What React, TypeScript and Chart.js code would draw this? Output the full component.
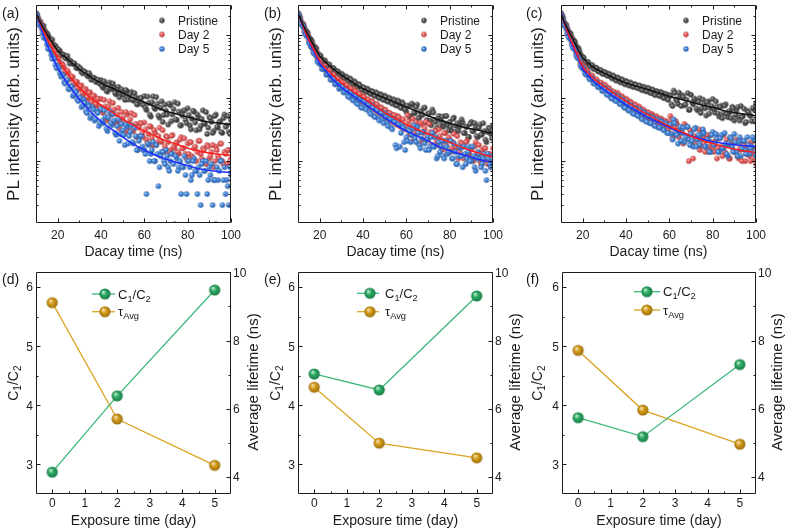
import React, { useEffect, useRef } from 'react';
import { Chart, registerables } from 'chart.js';

Chart.register(...registerables);

const FONT = '"Liberation Sans", Arial, Helvetica, sans-serif';
const INK = '#1b1b1b';

// ---------------- Panels (a)-(c): PL decay (counts, log axis) ----------------
const seriesNames = ['Pristine', 'Day 2', 'Day 5'];
const decayTime = [
  10, 11, 12, 13, 14, 15, 16, 17, 18, 19,
  20, 21, 22, 23, 24, 25, 26, 27, 28, 29,
  30, 31, 32, 33, 34, 35, 36, 37, 38, 39,
  40, 41, 42, 43, 44, 45, 46, 47, 48, 49,
  50, 51, 52, 53, 54, 55, 56, 57, 58, 59,
  60, 61, 62, 63, 64, 65, 66, 67, 68, 69,
  70, 71, 72, 73, 74, 75, 76, 77, 78, 79,
  80, 81, 82, 83, 84, 85, 86, 87, 88, 89,
  90, 91, 92, 93, 94, 95, 96, 97, 98, 99,
  100,
];
const decayTimeMid = [
  10.5, 11.5, 12.5, 13.5, 14.5, 15.5, 16.5, 17.5, 18.5, 19.5,
  20.5, 21.5, 22.5, 23.5, 24.5, 25.5, 26.5, 27.5, 28.5, 29.5,
  30.5, 31.5, 32.5, 33.5, 34.5, 35.5, 36.5, 37.5, 38.5, 39.5,
  40.5, 41.5, 42.5, 43.5, 44.5, 45.5, 46.5, 47.5, 48.5, 49.5,
  50.5, 51.5, 52.5, 53.5, 54.5, 55.5, 56.5, 57.5, 58.5, 59.5,
  60.5, 61.5, 62.5, 63.5, 64.5, 65.5, 66.5, 67.5, 68.5, 69.5,
  70.5, 71.5, 72.5, 73.5, 74.5, 75.5, 76.5, 77.5, 78.5, 79.5,
  80.5, 81.5, 82.5, 83.5, 84.5, 85.5, 86.5, 87.5, 88.5, 89.5,
  90.5, 91.5, 92.5, 93.5, 94.5, 95.5, 96.5, 97.5, 98.5, 99.5,
];
const fitTime = [10, 12, 14, 16, 18, 20, 22, 24, 26, 28, 30, 35, 40, 45, 50, 55, 60, 65, 70, 75, 80, 85, 90, 95, 100];

// (a)
const aPristine = [
  2240, 1880, 1640, 1420, 1200, 1080, 930, 850, 720, 680,
  590, 560, 500, 480, 440, 410, 390, 350, 345, 300,
  300, 260, 270, 252, 222, 228, 200, 210, 180, 192,
  193, 146, 163, 127, 177, 139, 150, 115, 151, 115,
  122, 94, 128, 106, 126, 91, 103, 80, 101, 84,
  108, 65, 84, 51, 107, 67, 82, 49, 89, 54,
  63, 38, 77, 55, 86, 45, 61, 37, 63, 45,
  69, 37, 47, 61, 31, 50, 36, 64, 39, 27,
  50, 42, 30, 55, 34, 43, 28, 55, 37, 29,
  45,
];
const aPristineMid = [
  2150, 1650, 1470, 1400, 1030, 1020, 840, 850, 620, 620,
  590, 480, 490, 430, 470, 355, 360, 360, 305, 320,
  298, 248, 262, 232, 250, 196, 210, 184, 196, 168,
  155, 186, 132, 162, 145, 171, 120, 135, 103, 138,
  113, 135, 95, 116, 94, 120, 80, 94, 100, 78,
  71, 106, 55, 86, 71, 104, 53, 70, 42, 79,
  55, 82, 43, 67, 46, 82, 37, 53, 64, 40,
  54, 32, 63, 41, 55, 32, 47, 40, 60, 34,
  48, 28, 52, 35, 41, 29, 48, 35, 52, 27,
];
const aDay2 = [
  2200, 1800, 1560, 1240, 1090, 880, 790, 650, 590, 480,
  445, 365, 350, 300, 250, 250, 200, 215, 165, 180,
  138, 160, 112, 140, 98, 124, 90, 108, 76, 96,
  98, 58, 74, 44, 89, 55, 66, 39, 70, 42,
  48, 28, 55, 39, 58, 30, 39, 24, 40, 28,
  41, 22, 27, 35, 18, 28, 20, 34, 20, 14,
  25, 20, 15, 26, 16, 20, 13, 24, 16, 13,
  19, 20, 12, 16, 10, 21, 13, 16, 10, 18,
  11, 14, 8, 17, 12, 19, 10, 14, 9, 15,
  11,
];
const aDay2Mid = [
  2080, 1560, 1420, 1090, 1010, 790, 740, 590, 560, 450,
  420, 330, 335, 260, 275, 205, 220, 170, 182, 146,
  156, 122, 132, 104, 122, 86, 110, 80, 98, 70,
  64, 94, 48, 73, 59, 84, 42, 55, 33, 60,
  41, 60, 31, 46, 31, 54, 24, 34, 40, 24,
  32, 19, 36, 23, 31, 18, 25, 21, 31, 17,
  24, 14, 25, 17, 19, 14, 22, 16, 23, 11,
  13, 20, 11, 17, 14, 21, 11, 15, 9, 17,
  12, 18, 10, 15, 11, 19, 9, 13, 15, 10,
];
const aDay5 = [
  2240, 1720, 1440, 1100, 930, 720, 620, 490, 440, 340,
  320, 250, 236, 180, 186, 140, 156, 108, 128, 96,
  104, 72, 96, 62, 80, 48, 72, 44, 62, 36,
  67, 40, 51, 30, 61, 37, 44, 26, 46, 27,
  31, 18, 35, 25, 37, 19, 25, 15, 25, 17,
  15, 3, 18, 13, 20, 10, 13, 8, 14, 10,
  15, 8, 10, 13, 1, 11, 8, 3, 8, 6,
  10, 8, 6, 11, 7, 8, 2, 10, 7, 3,
  8, 9, 5, 1, 5, 10, 2, 8, 5, 2,
  6,
];
const aDay5Mid = [
  2050, 1480, 1330, 920, 880, 610, 590, 420, 420, 300,
  300, 220, 230, 170, 196, 138, 152, 114, 124, 90,
  100, 76, 84, 58, 74, 52, 66, 46, 58, 40,
  44, 64, 33, 49, 40, 56, 28, 36, 21, 39,
  26, 38, 19, 29, 20, 34, 15, 21, 25, 15,
  13, 19, 10, 15, 10, 18, 4, 12, 14, 9,
  12, 7, 13, 9, 12, 7, 10, 8, 12, 3,
  10, 5, 10, 7, 3, 6, 9, 7, 10, 5,
  6, 2, 5, 8, 7, 10, 5, 3, 4, 8,
];
const aPristineFit = [2240, 1600, 1200, 920, 720, 570, 490, 432, 378, 330, 288, 220, 172, 145, 121, 101, 86, 73, 62, 56, 50, 45, 42, 40, 38];
const aDay2Fit = [2240, 1520, 1060, 760, 570, 430, 335, 262, 212, 176, 148, 104, 78, 60, 47, 37, 30, 25, 21, 18.5, 16, 14.5, 13.5, 12.8, 12.3];
const aDay5Fit = [2240, 1400, 900, 600, 420, 305, 232, 182, 146, 118, 96, 62, 43, 32, 24, 18.6, 15, 12.5, 10.7, 9.5, 8.5, 7.6, 7.1, 6.8, 6.6];

// (b)
const bPristine = [
  2240, 1900, 1520, 1300, 1150, 940, 860, 700, 640, 520,
  480, 410, 400, 350, 345, 305, 300, 268, 270, 238,
  245, 216, 222, 198, 206, 176, 186, 160, 168, 144,
  150, 130, 142, 122, 130, 112, 124, 104, 116, 96,
  110, 90, 102, 86, 96, 78, 92, 74, 86, 68,
  61, 75, 52, 77, 58, 79, 49, 57, 69, 41,
  57, 44, 66, 45, 34, 52, 44, 35, 52, 37,
  42, 30, 49, 36, 30, 40, 41, 28, 35, 24,
  42, 30, 35, 24, 38, 27, 30, 20, 34, 27,
  37,
];
const bPristineMid = [
  2120, 1620, 1480, 1150, 1080, 850, 800, 640, 610, 480,
  470, 390, 395, 335, 340, 292, 300, 258, 264, 228,
  236, 206, 214, 186, 196, 168, 176, 152, 160, 136,
  146, 126, 134, 116, 126, 108, 118, 100, 110, 94,
  104, 88, 98, 82, 92, 76, 88, 70, 82, 66,
  76, 50, 82, 59, 72, 48, 62, 54, 71, 45,
  57, 37, 59, 42, 47, 36, 51, 40, 52, 31,
  35, 47, 29, 40, 35, 46, 28, 35, 24, 39,
  30, 40, 25, 34, 26, 40, 22, 29, 33, 23,
];
const bDay2 = [
  2260, 1800, 1500, 1180, 1040, 820, 740, 590, 540, 420,
  395, 330, 330, 270, 275, 225, 228, 190, 196, 165,
  182, 150, 162, 132, 144, 118, 136, 104, 118, 92,
  108, 86, 96, 74, 90, 70, 80, 62, 72, 56,
  66, 48, 58, 44, 54, 40, 52, 36, 46, 34,
  35, 43, 26, 47, 28, 33, 19, 38, 28, 42,
  22, 29, 18, 30, 21, 32, 17, 21, 28, 14,
  22, 16, 27, 16, 11, 20, 17, 12, 21, 13,
  16, 10, 20, 13, 10, 15, 16, 10, 13, 8,
  16,
];
const bDay2Mid = [
  2080, 1560, 1420, 1060, 990, 760, 700, 540, 520, 400,
  395, 320, 325, 268, 276, 230, 236, 196, 204, 170,
  178, 148, 160, 128, 142, 112, 128, 100, 116, 88,
  104, 82, 94, 72, 86, 64, 80, 58, 70, 52,
  64, 48, 58, 42, 54, 38, 50, 35, 46, 32,
  54, 28, 37, 22, 41, 28, 41, 22, 33, 23,
  39, 18, 25, 30, 18, 25, 15, 28, 18, 24,
  14, 20, 17, 25, 14, 19, 11, 20, 13, 15,
  11, 17, 12, 18, 9, 11, 16, 9, 13, 11,
];
const bDay5 = [
  2200, 1740, 1420, 1140, 980, 760, 650, 540, 500, 380,
  350, 290, 300, 236, 240, 196, 200, 166, 172, 140,
  156, 124, 138, 108, 124, 96, 110, 84, 98, 72,
  90, 70, 82, 60, 78, 52, 68, 48, 62, 44,
  58, 40, 52, 34, 46, 18, 42, 17, 38, 20,
  24, 32, 20, 33, 23, 35, 18, 23, 29, 15,
  24, 17, 28, 17, 11, 20, 17, 12, 21, 13,
  14, 11, 19, 9, 12, 16, 8, 13, 11, 17,
  10, 12, 7, 14, 11, 9, 13, 5, 11, 8,
  12,
];
const bDay5Mid = [
  2060, 1520, 1380, 1030, 940, 720, 660, 510, 470, 370,
  356, 290, 290, 240, 240, 198, 200, 168, 172, 146,
  150, 124, 134, 104, 118, 92, 106, 80, 94, 70,
  86, 66, 78, 56, 70, 50, 64, 44, 58, 40,
  50, 36, 46, 32, 42, 16, 38, 28, 34, 15,
  21, 30, 26, 37, 20, 28, 16, 29, 19, 22,
  15, 24, 17, 24, 12, 14, 21, 11, 17, 14,
  21, 11, 14, 9, 17, 12, 17, 9, 14, 10,
  17, 8, 11, 13, 8, 11, 7, 13, 9, 11,
];
const bPristineFit = [2240, 1550, 1120, 830, 615, 470, 395, 340, 298, 262, 234, 180, 141, 118, 101, 85, 72, 62, 52.5, 45.5, 40, 35.5, 32.4, 30, 27.5];
const bDay2Fit = [2240, 1480, 1000, 720, 525, 395, 322, 272, 233, 200, 174, 130, 101, 77, 59, 47, 38.5, 32, 27, 23, 20, 17, 14.6, 13, 11.5];
const bDay5Fit = [2240, 1450, 960, 680, 485, 355, 290, 240, 200, 172, 148, 112, 85, 64, 49, 38, 30, 25, 21, 17, 14.6, 13, 11.5, 10.3, 9.5];

// (c)
const cPristine = [
  2240, 1880, 1520, 1260, 1100, 920, 830, 680, 630, 500,
  450, 380, 375, 330, 335, 296, 305, 270, 282, 248,
  262, 234, 246, 218, 230, 198, 214, 186, 200, 174,
  188, 164, 178, 154, 168, 148, 160, 138, 152, 130,
  146, 124, 138, 116, 130, 112, 126, 104, 118, 98,
  113, 80, 132, 96, 81, 108, 111, 77, 94, 65,
  113, 80, 93, 64, 100, 69, 78, 53, 89, 70,
  97, 59, 73, 51, 76, 58, 80, 50, 60, 73,
  44, 64, 50, 75, 52, 40, 63, 54, 43, 66,
  82,
];
const cPristineMid = [
  2080, 1560, 1440, 1110, 1050, 820, 780, 600, 570, 450,
  440, 370, 375, 322, 332, 288, 300, 264, 276, 242,
  254, 226, 236, 206, 220, 190, 206, 178, 192, 166,
  180, 158, 170, 150, 162, 144, 156, 134, 148, 128,
  142, 120, 134, 112, 126, 108, 120, 100, 114, 94,
  109, 75, 121, 92, 122, 75, 104, 79, 120, 66,
  86, 99, 69, 86, 58, 95, 69, 86, 57, 75,
  67, 89, 57, 73, 48, 76, 56, 62, 48, 69,
  54, 72, 44, 50, 68, 42, 60, 52, 70, 43,
];
const cDay2 = [
  2240, 1760, 1440, 1100, 960, 740, 660, 520, 470, 360,
  335, 280, 275, 228, 230, 196, 198, 170, 176, 150,
  164, 134, 146, 118, 128, 106, 122, 94, 108, 84,
  98, 76, 88, 68, 80, 62, 74, 56, 66, 52,
  60, 46, 56, 42, 52, 38, 48, 35, 44, 32,
  43, 35, 25, 43, 27, 32, 20, 39, 25, 10,
  30, 11, 18, 24, 15, 31, 19, 24, 14, 26,
  16, 19, 11, 23, 17, 26, 13, 18, 11, 19,
  14, 21, 11, 15, 19, 10, 16, 12, 20, 13,
  9,
];
const cDay2Mid = [
  2040, 1500, 1340, 990, 900, 660, 620, 460, 440, 320,
  316, 256, 264, 214, 226, 186, 196, 164, 176, 146,
  160, 126, 138, 108, 124, 100, 114, 88, 102, 80,
  94, 72, 84, 64, 76, 58, 70, 52, 62, 48,
  58, 44, 52, 40, 48, 36, 45, 33, 42, 30,
  52, 23, 33, 39, 24, 32, 19, 36, 23, 31,
  18, 25, 22, 32, 17, 24, 14, 26, 17, 20,
  14, 22, 16, 24, 12, 14, 22, 11, 18, 15,
  22, 12, 16, 10, 18, 13, 19, 10, 16, 11,
];
const cDay5 = [
  2200, 1700, 1380, 1060, 900, 700, 620, 480, 440, 330,
  300, 250, 246, 205, 206, 172, 178, 150, 160, 130,
  146, 116, 130, 102, 116, 92, 108, 82, 96, 72,
  86, 64, 78, 58, 70, 54, 66, 48, 60, 44,
  54, 40, 50, 37, 46, 34, 44, 32, 40, 28,
  38, 27, 46, 28, 19, 35, 28, 20, 35, 22,
  27, 17, 34, 22, 18, 27, 28, 17, 22, 14,
  29, 19, 23, 14, 26, 16, 19, 12, 24, 17,
  27, 14, 20, 12, 21, 15, 24, 13, 17, 22,
  12,
];
const cDay5Mid = [
  1980, 1440, 1260, 930, 840, 630, 580, 440, 410, 310,
  290, 236, 240, 198, 206, 170, 178, 150, 156, 132,
  142, 112, 126, 98, 112, 90, 104, 80, 92, 70,
  82, 64, 74, 56, 68, 52, 64, 46, 58, 42,
  52, 40, 48, 36, 45, 34, 42, 31, 39, 28,
  38, 22, 40, 26, 30, 21, 34, 24, 35, 18,
  21, 32, 17, 26, 22, 32, 17, 22, 14, 26,
  18, 27, 14, 23, 16, 28, 13, 19, 23, 14,
  20, 12, 24, 16, 21, 13, 18, 16, 24, 14,
];
const cPristineFit = [2240, 1500, 1080, 800, 580, 445, 375, 328, 295, 270, 250, 205, 174, 155, 138, 122, 107, 96, 87, 78, 71, 64, 59, 55.5, 52.5];
const cDay2Fit = [2240, 1400, 930, 640, 450, 316, 262, 222, 192, 170, 152, 115, 89, 69, 55, 44, 36, 30, 25, 21.5, 19, 17, 15.5, 14.5, 13.8];
const cDay5Fit = [2240, 1350, 880, 600, 420, 290, 238, 202, 174, 153, 136, 103, 78, 62, 49, 41, 34, 29, 25, 22.5, 20.4, 19.2, 18.2, 17.5, 17];

const decayMajor = [20, 40, 60, 80, 100];
const decayMinor = [30, 50, 70, 90];
const logMajor = [10, 100, 1000];
const logMinor = [2, 3, 4, 5, 6, 7, 8, 9, 20, 30, 40, 50, 60, 70, 80, 90, 200, 300, 400, 500, 600, 700, 800, 900, 2000, 3000];

// ---------------- Panels (d)-(f): C1/C2 and average lifetime ----------------
const exposureDays = [0, 2, 5];
const dRatio = [2.87, 4.16, 5.95];
const dTau = [9.11, 5.7, 4.34];
const eRatio = [4.53, 4.26, 5.85];
const eTau = [6.63, 4.99, 4.56];
const fRatio = [3.79, 3.47, 4.69];
const fTau = [7.71, 5.96, 4.96];
const dayMajor = [0, 1, 2, 3, 4, 5];
const dayMinor = [0.5, 1.5, 2.5, 3.5, 4.5];
const ratioMajor = [3, 4, 5, 6];
const ratioMinor = [3.5, 4.5, 5.5];
const lifeMajor = [4, 6, 8, 10];
const lifeMinor = [5, 7, 9];

// ---------------- helpers ----------------
type RGB = [number, number, number];
const GRAY: RGB = [80, 80, 80];
const RED: RGB = [240, 88, 88];
const BLUE: RGB = [64, 134, 224];
const GREEN: RGB = [42, 170, 98];
const GOLD: RGB = [212, 154, 22];

function makeBall(c: RGB, r: number): HTMLCanvasElement {
  const size = Math.ceil(r * 2) + 2;
  const cv = document.createElement('canvas');
  cv.width = size;
  cv.height = size;
  const g = cv.getContext('2d')!;
  const m = size / 2;
  const lift = (v: number, k: number) => Math.round(v + (255 - v) * k);
  const grad = g.createRadialGradient(m - r * 0.35, m - r * 0.38, r * 0.05, m, m, r);
  grad.addColorStop(0, `rgb(${lift(c[0], 0.75)},${lift(c[1], 0.75)},${lift(c[2], 0.75)})`);
  grad.addColorStop(0.45, `rgb(${c[0]},${c[1]},${c[2]})`);
  grad.addColorStop(1, `rgb(${Math.round(c[0] * 0.72)},${Math.round(c[1] * 0.72)},${Math.round(c[2] * 0.72)})`);
  g.fillStyle = grad;
  g.beginPath();
  g.arc(m, m, r, 0, Math.PI * 2);
  g.fill();
  return cv;
}

type Part = { t: string; sub?: boolean };
function drawText(
  ctx: CanvasRenderingContext2D,
  parts: Part[] | string,
  x: number,
  y: number,
  size: number,
  align: 'left' | 'center' | 'right' = 'left',
  rotate = 0,
) {
  const ps: Part[] = typeof parts === 'string' ? [{ t: parts }] : parts;
  ctx.save();
  ctx.translate(x, y);
  if (rotate) ctx.rotate(rotate);
  const subSize = size * 0.72;
  const fontOf = (p: Part) => `${p.sub ? subSize : size}px ${FONT}`;
  let w = 0;
  for (const p of ps) {
    ctx.font = fontOf(p);
    w += ctx.measureText(p.t).width;
  }
  let cx = align === 'center' ? -w / 2 : align === 'right' ? -w : 0;
  ctx.fillStyle = INK;
  ctx.textAlign = 'left';
  ctx.textBaseline = 'alphabetic';
  const base = size * 0.36;
  for (const p of ps) {
    ctx.font = fontOf(p);
    ctx.fillText(p.t, cx, p.sub ? base + size * 0.22 : base);
    cx += ctx.measureText(p.t).width;
  }
  ctx.restore();
}

const px = (v: number) => Math.round(v) + 0.5;

// ---------------- decay panels ----------------
interface DecaySpec {
  tag: string;
  data: number[][];
  mid: number[][];
  fits: number[][];
  left: number;
  right: number;
}

function buildDecay(canvas: HTMLCanvasElement, spec: DecaySpec) {
  const balls = [makeBall(GRAY, 2.7), makeBall(RED, 2.7), makeBall(BLUE, 2.7)];
  const lineColors = ['#121212', '#ff1c1c', '#1d2cff'];
  const datasets: any[] = [];
  spec.fits.forEach((f, i) =>
    datasets.push({
      type: 'line',
      label: seriesNames[i] + ' fit',
      data: fitTime.map((t, k) => ({ x: t, y: f[k] })),
      borderColor: lineColors[i],
      borderWidth: 1.5,
      pointRadius: 0,
      showLine: true,
      fill: false,
      cubicInterpolationMode: 'monotone',
      order: 0,
    }),
  );
  spec.data.forEach((d, i) =>
    datasets.push({
      type: 'scatter',
      label: seriesNames[i],
      data: [
        ...decayTime.map((t, k) => ({ x: t, y: d[k] })),
        ...decayTimeMid.map((t, k) => ({ x: t, y: spec.mid[i][k] })),
      ],
      pointStyle: balls[i],
      pointRadius: 3,
      showLine: false,
      order: 3 - i,
    }),
  );

  const decor = {
    id: 'decayDecor',
    afterDraw(chart: any) {
      const ctx: CanvasRenderingContext2D = chart.ctx;
      const a = chart.chartArea;
      const xs = chart.scales.x;
      const ys = chart.scales.y;
      const L = px(a.left);
      const R = px(a.right) - 1;
      const T = px(a.top);
      const B = px(a.bottom) - 1;
      ctx.save();
      ctx.strokeStyle = INK;
      ctx.lineWidth = 1;
      ctx.beginPath();
      ctx.rect(L, T, R - L, B - T);
      const vt = (vals: number[], len: number) => {
        for (const v of vals) {
          const x = px(xs.getPixelForValue(v));
          ctx.moveTo(x, B);
          ctx.lineTo(x, B - len);
          ctx.moveTo(x, T);
          ctx.lineTo(x, T + len);
        }
      };
      const ht = (vals: number[], len: number) => {
        for (const v of vals) {
          const y = px(ys.getPixelForValue(v));
          if (y < T || y > B) continue;
          ctx.moveTo(L, y);
          ctx.lineTo(L + len, y);
          ctx.moveTo(R, y);
          ctx.lineTo(R - len, y);
        }
      };
      vt(decayMajor, 4);
      vt(decayMinor, 2);
      ht(logMajor, 4);
      ht(logMinor, 2);
      ctx.stroke();
      for (const v of decayMajor) drawText(ctx, String(v), xs.getPixelForValue(v), a.bottom + 12, 12, 'center');
      drawText(ctx, 'Dacay time (ns)', (a.left + a.right) / 2, 251, 14, 'center');
      drawText(ctx, 'PL intensity (arb. units)', 13, (a.top + a.bottom) / 2, 17, 'center', -Math.PI / 2);
      drawText(ctx, spec.tag, 2, 12.5, 14, 'left');
      const rows = [20.5, 34.5, 49];
      seriesNames.forEach((n, i) => {
        const b = balls[i];
        ctx.drawImage(b, 162 - b.width / 2, rows[i] - b.height / 2);
        drawText(ctx, n, 178, rows[i], 12, 'left');
      });
      ctx.restore();
    },
  };

  return new Chart(canvas, {
    type: 'scatter',
    data: { datasets },
    options: {
      animation: false,
      responsive: false,
      devicePixelRatio: 1,
      events: [],
      layout: { padding: { left: 0, right: canvas.width - spec.right, top: 3, bottom: 0 } },
      plugins: { legend: { display: false }, tooltip: { enabled: false } },
      scales: {
        x: {
          type: 'linear',
          min: 10,
          max: 100,
          ticks: { display: false },
          grid: { display: false },
          border: { display: false },
          afterFit: (s: any) => {
            s.height = 42;
          },
        },
        y: {
          type: 'logarithmic',
          min: 1.04,
          max: 3020,
          ticks: { display: false },
          grid: { display: false },
          border: { display: false },
          afterFit: (s: any) => {
            s.width = spec.left;
          },
        },
      },
    } as any,
    plugins: [decor],
  } as any);
}

// ---------------- lifetime panels ----------------
interface LifeSpec {
  tag: string;
  ratio: number[];
  tau: number[];
  left: number;
  right: number;
  lg: { l0: number; l1: number; mark: number; text: number; rows: [number, number] };
}

function buildLife(canvas: HTMLCanvasElement, spec: LifeSpec) {
  const gBall = makeBall(GREEN, 5.6);
  const oBall = makeBall(GOLD, 5.6);
  const gLine = '#3cb878';
  const oLine = '#dca423';

  const decor = {
    id: 'lifeDecor',
    afterDraw(chart: any) {
      const ctx: CanvasRenderingContext2D = chart.ctx;
      const a = chart.chartArea;
      const xs = chart.scales.x;
      const yl = chart.scales.y;
      const yr = chart.scales.y1;
      const L = px(a.left);
      const R = px(a.right) - 1;
      const T = px(a.top);
      const B = px(a.bottom) - 1;
      ctx.save();
      ctx.strokeStyle = INK;
      ctx.lineWidth = 1;
      ctx.beginPath();
      ctx.rect(L, T, R - L, B - T);
      for (const [vals, len] of [[dayMajor, 4], [dayMinor, 2]] as [number[], number][]) {
        for (const v of vals) {
          const x = px(xs.getPixelForValue(v));
          ctx.moveTo(x, B);
          ctx.lineTo(x, B - len);
        }
      }
      for (const [vals, len] of [[ratioMajor, 4], [ratioMinor, 2]] as [number[], number][]) {
        for (const v of vals) {
          const y = px(yl.getPixelForValue(v));
          ctx.moveTo(L, y);
          ctx.lineTo(L + len, y);
        }
      }
      for (const [vals, len] of [[lifeMajor, 4], [lifeMinor, 2]] as [number[], number][]) {
        for (const v of vals) {
          const y = px(yr.getPixelForValue(v));
          if (y < T - 1) continue;
          ctx.moveTo(R, y);
          ctx.lineTo(R - len, y);
        }
      }
      ctx.stroke();
      for (const v of dayMajor) drawText(ctx, String(v), xs.getPixelForValue(v), a.bottom + 9, 12, 'center');
      for (const v of ratioMajor) drawText(ctx, String(v), a.left - 3, yl.getPixelForValue(v), 12, 'right');
      for (const v of lifeMajor) drawText(ctx, String(v), a.right + 2, Math.max(yr.getPixelForValue(v), 5), 12, 'left');
      drawText(ctx, 'Exposure time (day)', (a.left + a.right) / 2, 255, 14, 'center');
      drawText(
        ctx,
        [{ t: 'C' }, { t: '1', sub: true }, { t: '/C' }, { t: '2', sub: true }],
        13,
        (a.top + a.bottom) / 2,
        14,
        'center',
        -Math.PI / 2,
      );
      drawText(ctx, 'Average lifetime (ns)', 253, 117, 15, 'center', -Math.PI / 2);
      drawText(ctx, spec.tag, 2, 14, 14, 'left');

      const lg = spec.lg;
      const items: [string, HTMLCanvasElement, Part[]][] = [
        [gLine, gBall, [{ t: 'C' }, { t: '1', sub: true }, { t: '/C' }, { t: '2', sub: true }]],
        [oLine, oBall, [{ t: 'τ' }, { t: 'Avg', sub: true }]],
      ];
      items.forEach(([col, ball, parts], i) => {
        const y = lg.rows[i];
        ctx.beginPath();
        ctx.strokeStyle = col;
        ctx.lineWidth = 1.3;
        ctx.moveTo(lg.l0, y);
        ctx.lineTo(lg.l1, y);
        ctx.stroke();
        ctx.drawImage(ball, lg.mark - ball.width / 2, y - ball.height / 2);
        drawText(ctx, parts, lg.text, y, 13, 'left');
      });
      ctx.restore();
    },
  };

  return new Chart(canvas, {
    type: 'line',
    data: {
      datasets: [
        {
          label: 'C1/C2',
          data: exposureDays.map((d, k) => ({ x: d, y: spec.ratio[k] })),
          yAxisID: 'y',
          borderColor: gLine,
          borderWidth: 1.3,
          pointStyle: gBall,
          pointRadius: 6,
          fill: false,
          tension: 0,
          order: 0,
        },
        {
          label: 'τAvg',
          data: exposureDays.map((d, k) => ({ x: d, y: spec.tau[k] })),
          yAxisID: 'y1',
          borderColor: oLine,
          borderWidth: 1.3,
          pointStyle: oBall,
          pointRadius: 6,
          fill: false,
          tension: 0,
          order: 1,
        },
      ],
    },
    options: {
      animation: false,
      responsive: false,
      devicePixelRatio: 1,
      events: [],
      layout: { padding: { left: 0, right: 0, top: 4, bottom: 0 } },
      plugins: { legend: { display: false }, tooltip: { enabled: false } },
      scales: {
        x: {
          type: 'linear',
          min: -0.5,
          max: 5.5,
          ticks: { display: false },
          grid: { display: false },
          border: { display: false },
          afterFit: (s: any) => {
            s.height = 36;
          },
        },
        y: {
          type: 'linear',
          position: 'left',
          min: 2.5,
          max: 6.25,
          ticks: { display: false },
          grid: { display: false },
          border: { display: false },
          afterFit: (s: any) => {
            s.width = spec.left;
          },
        },
        y1: {
          type: 'linear',
          position: 'right',
          min: 3.5,
          max: 10,
          ticks: { display: false },
          grid: { display: false },
          border: { display: false },
          afterFit: (s: any) => {
            s.width = canvas.width - spec.right;
          },
        },
      },
    } as any,
    plugins: [decor],
  } as any);
}

// ---------------- React ----------------
function Box({ x, y, w, h, make }: { x: number; y: number; w: number; h: number; make: (c: HTMLCanvasElement) => Chart }) {
  const ref = useRef<HTMLCanvasElement>(null);
  useEffect(() => {
    const ch = make(ref.current!);
    return () => ch.destroy();
  }, []);
  return <canvas ref={ref} width={w} height={h} style={{ position: 'absolute', left: x, top: y, width: w, height: h }} />;
}

export default function App() {
  return (
    <div style={{ position: 'absolute', left: 0, top: 0, width: 787, height: 530, background: '#fff', overflow: 'hidden' }}>
      <Box x={0} y={0} w={262} h={265} make={(c) => buildDecay(c, { tag: '(a)', data: [aPristine, aDay2, aDay5], mid: [aPristineMid, aDay2Mid, aDay5Mid], fits: [aPristineFit, aDay2Fit, aDay5Fit], left: 36, right: 231 })} />
      <Box x={262} y={0} w={262} h={265} make={(c) => buildDecay(c, { tag: '(b)', data: [bPristine, bDay2, bDay5], mid: [bPristineMid, bDay2Mid, bDay5Mid], fits: [bPristineFit, bDay2Fit, bDay5Fit], left: 36, right: 231 })} />
      <Box x={524} y={0} w={263} h={265} make={(c) => buildDecay(c, { tag: '(c)', data: [cPristine, cDay2, cDay5], mid: [cPristineMid, cDay2Mid, cDay5Mid], fits: [cPristineFit, cDay2Fit, cDay5Fit], left: 37, right: 232 })} />
      <Box x={0} y={265} w={262} h={265} make={(c) => buildLife(c, { tag: '(d)', ratio: dRatio, tau: dTau, left: 36, right: 231, lg: { l0: 92, l1: 115, mark: 105, text: 118, rows: [29, 46.7] } })} />
      <Box x={262} y={265} w={262} h={265} make={(c) => buildLife(c, { tag: '(e)', ratio: eRatio, tau: eTau, left: 36, right: 231, lg: { l0: 95, l1: 117, mark: 108, text: 123, rows: [28.3, 46.7] } })} />
      <Box x={524} y={265} w={263} h={265} make={(c) => buildLife(c, { tag: '(f)', ratio: fRatio, tau: fTau, left: 38, right: 232, lg: { l0: 110, l1: 136, mark: 123, text: 139, rows: [26.7, 45] } })} />
    </div>
  );
}
